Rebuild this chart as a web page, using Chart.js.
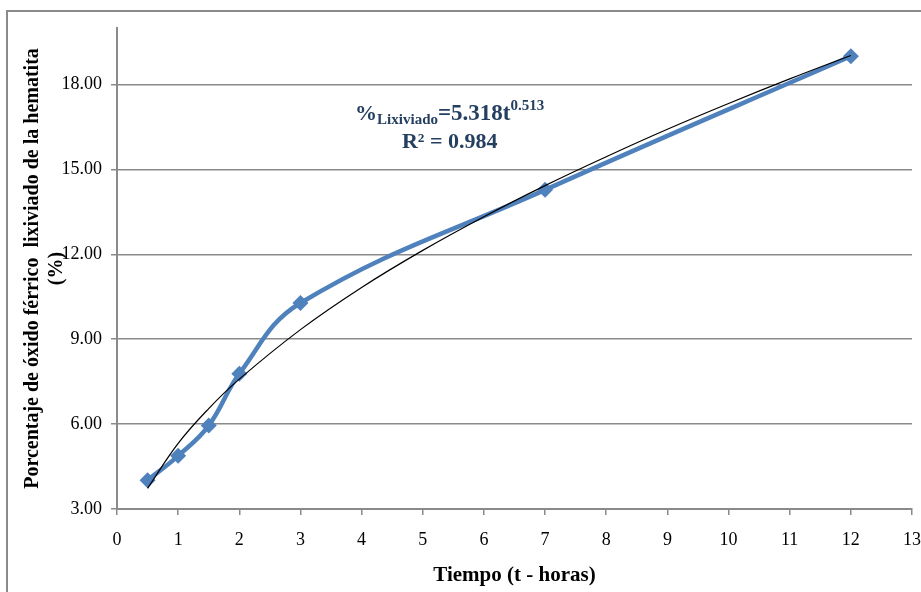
<!DOCTYPE html>
<html>
<head>
<meta charset="utf-8">
<script src="https://cdn.jsdelivr.net/npm/chart.js@4.4.1/dist/chart.umd.min.js"></script>
<style>
  html, body { margin: 0; padding: 0; background: #fff; }
  #wrap { width: 921px; height: 592px; }
</style>
</head>
<body>
<div id="wrap"><canvas id="leachChart"></canvas></div>
<script>
// Tiempo (horas) y % lixiviado medido
const horas = [0.5, 1, 1.5, 2, 3, 7, 12];
const lixiviado = [4.02, 4.88, 5.95, 7.78, 10.28, 14.28, 19.0];

// Curva de tendencia
const horasTendencia = [0.5, 1, 1.5, 2, 3, 4, 5, 6, 7, 8, 9, 10, 11, 12];
const valoresTendencia = [3.73, 5.32, 6.55, 7.59, 9.34, 10.83, 12.14, 13.33, 14.43, 15.45, 16.42, 17.33, 18.2, 19.03];

// Ejes
const yMin = 3, yMax = 20, yPaso = 3;
const xMin = 0, xMax = 13;

const serif = "'Liberation Serif', 'Times New Roman', serif";

function toPoints(xs, ys) {
    return xs.map((x, i) => ({ x: x, y: ys[i] }));
}

// Marco exterior del gráfico
const framePlugin = {
    id: 'frame',
    beforeDraw(chart) {
        const ctx = chart.ctx;
        ctx.save();
        ctx.strokeStyle = '#8a8a8a';
        ctx.lineWidth = 2;
        ctx.strokeRect(7, 11, 1000, 1000);
        ctx.restore();
    }
};

// Ecuación de la tendencia
const equationPlugin = {
    id: 'equation',
    afterDatasetsDraw(chart) {
        const ctx = chart.ctx;
        const xs = chart.scales.x, ys = chart.scales.y;
        const cx = xs.getPixelForValue(5.44);
        const y1 = ys.getPixelForValue(16.75);
        const y2 = ys.getPixelForValue(15.75);
        const big = 'bold 22px ' + serif;
        const small = 'bold 15px ' + serif;
        const parts = [
            { t: '%', f: big, dy: 0 },
            { t: 'Lixiviado', f: small, dy: 4 },
            { t: '=5.318t', f: 'bold 23px ' + serif, dy: 0 },
            { t: '0.513', f: small, dy: -10 }
        ];
        ctx.save();
        ctx.fillStyle = '#243f60';
        ctx.textBaseline = 'alphabetic';
        ctx.textAlign = 'left';
        let total = 0;
        parts.forEach(p => { ctx.font = p.f; p.w = ctx.measureText(p.t).width; total += p.w; });
        let x = cx - total / 2;
        parts.forEach(p => { ctx.font = p.f; ctx.fillText(p.t, x, y1 + p.dy); x += p.w; });
        ctx.font = big;
        ctx.textAlign = 'center';
        ctx.fillText('R² = 0.984', cx, y2);
        ctx.restore();
    }
};

document.addEventListener('DOMContentLoaded', function() {
    const ctx = document.getElementById('leachChart');
    new Chart(ctx, {
        type: 'line',
        data: {
            datasets: [{
                label: 'Lixiviado',
                data: toPoints(horas, lixiviado),
                borderColor: '#4f81bd',
                backgroundColor: '#4f81bd',
                borderWidth: 4.5,
                pointStyle: 'rectRot',
                pointRadius: 8,
                pointBorderWidth: 0,
                tension: 0.4
            }, {
                label: 'Tendencia',
                data: toPoints(horasTendencia, valoresTendencia),
                borderColor: '#000000',
                borderWidth: 1.2,
                pointRadius: 0,
                tension: 0.4,
                order: -1
            }]
        },
        options: {
            responsive: true,
            maintainAspectRatio: false,
            animation: false,
            events: [],
            layout: { padding: { top: 28, right: 9, left: 0, bottom: 0 } },
            plugins: {
                legend: { display: false },
                tooltip: { enabled: false }
            },
            scales: {
                x: {
                    type: 'linear',
                    min: xMin,
                    max: xMax,
                    ticks: {
                        stepSize: 1,
                        color: '#000',
                        padding: 14,
                        maxRotation: 0,
                        font: { family: serif, size: 18 }
                    },
                    grid: {
                        drawOnChartArea: false,
                        drawTicks: true,
                        tickLength: 6,
                        color: '#8a8a8a',
                        lineWidth: 1.5
                    },
                    border: { color: '#8a8a8a', width: 2 },
                    title: {
                        display: true,
                        text: 'Tiempo (t - horas)',
                        color: '#000',
                        font: { family: serif, size: 21, weight: 'bold' },
                        padding: { top: 0, bottom: 4 }
                    },
                    afterFit(scale) {
                        scale.height = 83;
                        scale.paddingRight = 0;
                    }
                },
                y: {
                    min: yMin,
                    max: yMax,
                    ticks: {
                        stepSize: yPaso,
                        includeBounds: false,
                        color: '#000',
                        padding: 9,
                        font: { family: serif, size: 18 },
                        callback: v => v.toFixed(2)
                    },
                    grid: {
                        color: '#8a8a8a',
                        lineWidth: 1.5,
                        tickLength: 6
                    },
                    border: { color: '#8a8a8a', width: 2 },
                    title: {
                        display: true,
                        text: ['Porcentaje de óxido férrico  lixiviado de la hematita', '(%)'],
                        color: '#000',
                        font: { family: serif, size: 20, weight: 'bold', lineHeight: 1.2 },
                        padding: { top: 21, bottom: 0 }
                    },
                    afterFit(scale) { scale.width = 117; }
                }
            }
        },
        plugins: [framePlugin, equationPlugin]
    });
});
</script>
</body>
</html>
